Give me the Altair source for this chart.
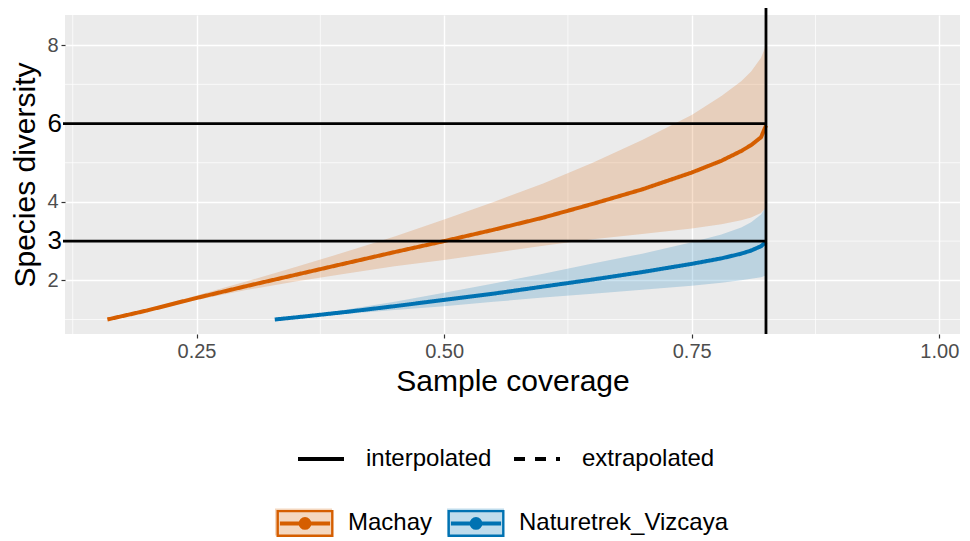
import altair as alt
import pandas as pd

# ---- data ----
groups = ["Machay", "Naturetrek_Vizcaya"]
group_colors = ["#D55E00", "#0072B2"]
methods = ["interpolated", "extrapolated"]

x_machay = [0.16, 0.20, 0.25, 0.30, 0.35, 0.40, 0.45, 0.50, 0.55, 0.60, 0.65, 0.70, 0.75, 0.78, 0.80, 0.81, 0.82, 0.825]
qd_machay = [1.00, 1.23, 1.55, 1.85, 2.14, 2.43, 2.72, 3.00, 3.29, 3.60, 3.95, 4.32, 4.75, 5.05, 5.30, 5.45, 5.65, 5.95]
ucl_machay = [1.00, 1.27, 1.61, 1.97, 2.34, 2.72, 3.12, 3.55, 4.00, 4.47, 5.00, 5.58, 6.22, 6.70, 7.08, 7.33, 7.68, 8.00]
lcl_machay = [1.00, 1.20, 1.50, 1.75, 1.97, 2.17, 2.36, 2.52, 2.70, 2.88, 3.05, 3.18, 3.32, 3.43, 3.53, 3.60, 3.72, 3.85]

x_vizcaya = [0.329, 0.36, 0.40, 0.45, 0.50, 0.55, 0.60, 0.65, 0.70, 0.75, 0.78, 0.80, 0.81, 0.82, 0.825]
qd_vizcaya = [1.00, 1.08, 1.19, 1.34, 1.50, 1.66, 1.84, 2.02, 2.21, 2.42, 2.56, 2.68, 2.76, 2.87, 2.98]
ucl_vizcaya = [1.00, 1.10, 1.25, 1.45, 1.68, 1.92, 2.17, 2.43, 2.68, 2.97, 3.17, 3.35, 3.48, 3.68, 3.88]
lcl_vizcaya = [1.00, 1.06, 1.14, 1.24, 1.34, 1.45, 1.56, 1.66, 1.76, 1.86, 1.94, 2.00, 2.04, 2.08, 2.12]

ref_coverage = [0.825]
ref_levels = [3, 6]

x_ticks = [0.25, 0.50, 0.75, 1.00]
y_ticks = [2, 4, 8]
x_minor = [0.125, 0.375, 0.625, 0.875]
y_minor = [1, 3, 5, 7]

# ---- tables ----
rows = []
for g, xs, qs, us, ls in [("Machay", x_machay, qd_machay, ucl_machay, lcl_machay),
                          ("Naturetrek_Vizcaya", x_vizcaya, qd_vizcaya, ucl_vizcaya, lcl_vizcaya)]:
    for x, q, u, l in zip(xs, qs, us, ls):
        rows.append({"Assemblage": g, "SC": x, "qD": q, "UCL": u, "LCL": l, "Method": "interpolated"})
df = pd.DataFrame(rows)

vline_df = pd.DataFrame({"v": ref_coverage})
hline_df = pd.DataFrame({"lvl": ref_levels, "xend": ref_coverage * len(ref_levels)})
xminor_df = pd.DataFrame({"v": x_minor})
yminor_df = pd.DataFrame({"v": y_minor})

W, H = 895, 319
FONT = "Liberation Sans"
xscale = alt.Scale(domain=[0.1172, 1.0209], nice=False, zero=False)
yscale = alt.Scale(domain=[0.63, 8.77], nice=False, zero=False)

x_axis = alt.Axis(values=x_ticks, format=".2f", title="Sample coverage",
                  labelFontSize=20, labelColor="#4D4D4D", labelPadding=3,
                  tickColor="#333333", tickSize=4, tickWidth=1.2,
                  domain=False, grid=True, gridColor="white", gridWidth=1.4,
                  titleFontSize=30, titleFontWeight="normal", titleColor="black",
                  titlePadding=5)
y_axis = alt.Axis(values=y_ticks, format="d", title="Species diversity",
                  labelFontSize=20, labelColor="#4D4D4D", labelPadding=3,
                  tickColor="#333333", tickSize=4, tickWidth=1.2,
                  domain=False, grid=True, gridColor="white", gridWidth=1.4,
                  titleFontSize=30, titleFontWeight="normal", titleColor="black",
                  titlePadding=6)

# legend key: frame + line + dot (stroke only)
def circ(r):
    return f"M{r},0A{r},{r} 0 1,1 {-r},0A{r},{r} 0 1,1 {r},0"

key_path = ("M-0.958,-0.432L0.958,-0.432L0.958,0.432L-0.958,0.432Z"
            "M-0.88,-0.028L0.88,-0.028M-0.88,0.028L0.88,0.028"
            + circ(0.042) + circ(0.119) + circ(0.182))
key_box = "M-1,-0.474L1,-0.474L1,0.474L-1,0.474Z"

color_legend = alt.Legend(orient="none", legendX=210, legendY=478, direction="horizontal",
                          title=None, padding=0, symbolType=key_path, symbolSize=3249,
                          symbolStrokeWidth=2.4, labelFontSize=24, labelColor="black",
                          labelOffset=13, columnPadding=10, labelFont=FONT, labelLimit=400)
# light key background drawn by a second legend (no labels of its own)
fill_legend = alt.Legend(orient="none", legendX=210, legendY=478, direction="horizontal",
                         title=None, padding=0, symbolType=key_box, symbolSize=3249,
                         symbolStrokeWidth=0, symbolOpacity=0.25, labelFontSize=24,
                         labelExpr="''", labelOffset=0, columnPadding=115, labelFont=FONT)
dash_legend = alt.Legend(orient="none", legendX=231, legendY=419, direction="horizontal",
                         title=None, padding=0, symbolType="stroke", symbolSize=2116,
                         symbolStrokeWidth=4, symbolStrokeColor="black",
                         labelFontSize=24, labelColor="black", labelOffset=20,
                         columnPadding=14, labelFont=FONT, labelLimit=400)

minor_x = alt.Chart(xminor_df).mark_rule(color="white", strokeWidth=0.7).encode(
    x=alt.X("v:Q", scale=xscale, axis=x_axis))
minor_y = alt.Chart(yminor_df).mark_rule(color="white", strokeWidth=0.7).encode(
    y=alt.Y("v:Q", scale=yscale, axis=y_axis))

band = alt.Chart(df).mark_area(opacity=0.2).encode(
    x=alt.X("SC:Q", scale=xscale, axis=x_axis),
    y=alt.Y("LCL:Q", scale=yscale, axis=y_axis),
    y2="UCL:Q",
    fill=alt.Fill("Assemblage:N", scale=alt.Scale(domain=groups, range=group_colors), legend=fill_legend),
)

line = alt.Chart(df).mark_line(strokeWidth=4).encode(
    x=alt.X("SC:Q", scale=xscale, axis=x_axis),
    y=alt.Y("qD:Q", scale=yscale, axis=y_axis),
    color=alt.Color("Assemblage:N", scale=alt.Scale(domain=groups, range=group_colors), legend=color_legend),
    strokeDash=alt.StrokeDash("Method:N", scale=alt.Scale(domain=methods, range=[[1, 0], [11, 10]]),
                              legend=dash_legend),
)

hrules = alt.Chart(hline_df).mark_rule(color="black", strokeWidth=2.8).encode(
    y=alt.Y("lvl:Q", scale=yscale, axis=y_axis),
    x=alt.X("xend:Q", scale=xscale, axis=x_axis),
    x2=alt.value(-2),
)
hlabels = alt.Chart(hline_df).mark_text(align="right", baseline="middle", fontSize=26,
                                        color="black", font=FONT).encode(
    y=alt.Y("lvl:Q", scale=yscale, axis=y_axis),
    x=alt.value(-3),
    text=alt.Text("lvl:Q", format="d"),
)
vrule = alt.Chart(vline_df).mark_rule(color="black", strokeWidth=2.8).encode(
    x=alt.X("v:Q", scale=xscale, axis=x_axis),
    y=alt.value(-10),
    y2=alt.value(H),
)

chart = alt.layer(minor_x, minor_y, band, line, hrules, hlabels, vrule).resolve_scale(
    color="independent", fill="independent", strokeDash="independent"
).properties(
    width=W, height=H,
    autosize=alt.AutoSizeParams(type="none"),
    padding={"left": 57, "top": 7, "right": 2, "bottom": 205},
).configure(font=FONT).configure_view(fill="#EBEBEB", strokeWidth=0)

chart.save("out.html", embed_options={"renderer": "svg", "actions": False})
